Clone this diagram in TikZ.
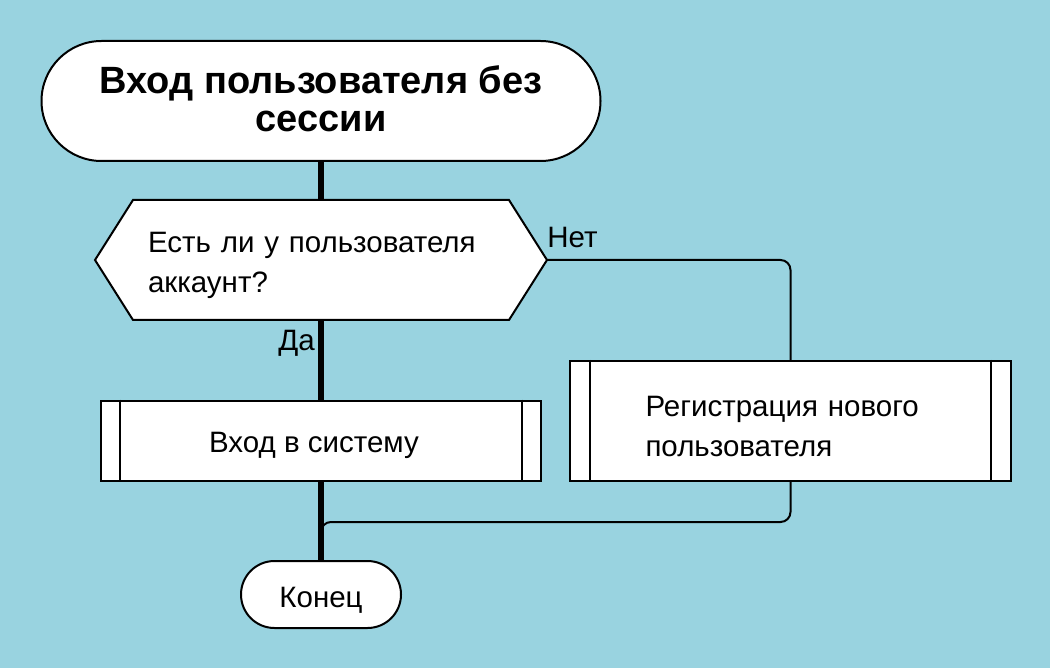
\documentclass[tikz,border=0pt]{standalone}
\usepackage{fontspec}
\setmainfont{Liberation Sans}

\definecolor{bgblue}{RGB}{153,211,224}

\tikzset{
    terminal/.style={draw, fill=white, line width=2pt, rounded corners=#1},
    procbox/.style={draw, fill=white, line width=2pt},
    textdrop/.style={execute at begin node={\rule{0pt}{31pt}}},
    flow/.style={line width=6pt},
    branch/.style={line width=2pt, rounded corners=10pt},
}

\begin{document}
\begin{tikzpicture}[x=1pt, y=-1pt, font=\fontsize{29.5}{40}\selectfont]
    \fill[bgblue] (0,0) rectangle (1050,668);
    \useasboundingbox (0,0) rectangle (1050,668);

    \node[terminal=60pt, minimum width=559pt, minimum height=120pt, align=center, font=\bfseries\fontsize{38}{38}\selectfont, execute at end node={\rule[-4pt]{0pt}{0pt}}] (start) at (321,101) {Вход пользователя без\\сессии};

    \draw[procbox] (95,260) -- (133,200) -- (509,200) -- (547,260) -- (509,320) -- (133,320) -- cycle;
    \node[textdrop, minimum width=452pt, minimum height=120pt, text width=346pt, align=left] (ask) at (321,260) {Есть ли у пользователя\\аккаунт?};

    \node[procbox, textdrop, minimum width=440pt, minimum height=80pt] (login) at (321,440.5) {Вход в систему\hspace*{14pt}};
    \node[procbox, textdrop, minimum width=441pt, minimum height=120pt, text width=290pt, align=left] (reg) at (790.5,421) {Регистрация нового\\пользователя};
    \node[terminal=33.5pt, textdrop, minimum width=160pt, minimum height=67pt] (stop) at (321,594.5) {Конец};

    \draw[line width=2pt] ([xshift=20pt]login.north west) -- ([xshift=20pt]login.south west);
    \draw[line width=2pt] ([xshift=-20pt]login.north east) -- ([xshift=-20pt]login.south east);
    \draw[line width=2pt] ([xshift=21pt]reg.north west) -- ([xshift=21pt]reg.south west);
    \draw[line width=2pt] ([xshift=-21pt]reg.north east) -- ([xshift=-21pt]reg.south east);

    \draw[flow] (start) -- (ask);
    \draw[flow] (ask) -- node[left, pos=0.29] (yes) {Да} (login);
    \draw[flow] (login) -- (stop);
    \draw[branch] (ask.east) -| (reg.north);
    \node[anchor=base west, inner sep=0pt] (no) at ([yshift=12pt]ask.east) {Нет};
    \draw[branch] (reg.south) -- ++(0,40) -| (stop.north);
\end{tikzpicture}
\end{document}
